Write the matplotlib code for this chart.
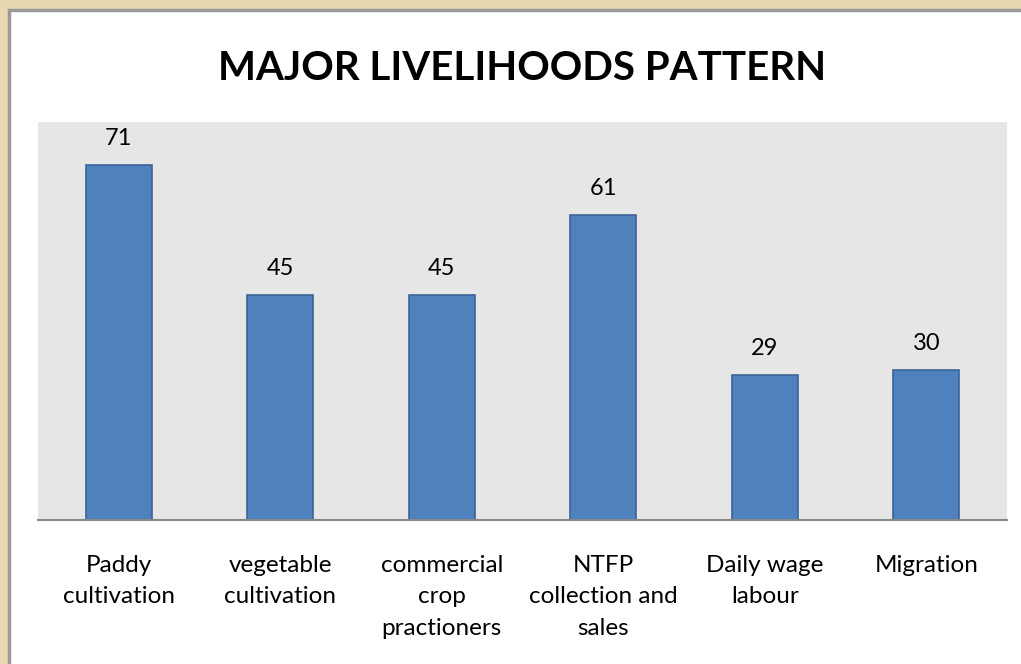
import matplotlib.pyplot as plt
import matplotlib.patches as mpatches
import numpy as np

categories = ["Paddy\ncultivation", "vegetable\ncultivation", "commercial\ncrop\npractioners",
              "NTFP\ncollection and\nsales", "Daily wage\nlabour", "Migration"]
values = [71, 45, 45, 61, 29, 30]

W, H = 1021, 664
fig = plt.figure(figsize=(W / 100, H / 100), dpi=100)
fig.patch.set_facecolor("#e9d7b1")

# white panel with grey border
panel = mpatches.Rectangle((8.5 / W, -0.01), 1, 1 - 9.5 / H + 0.01,
                           transform=fig.transFigure, facecolor="white",
                           edgecolor="#9a9a9a", linewidth=2.5, zorder=-1)
fig.add_artist(panel)

ax = fig.add_axes([38 / W, (H - 520) / H, (1007 - 38) / W, (520 - 122) / H])
ax.set_zorder(1)
ax.set_facecolor("#e6e6e6")

x = np.arange(len(values))
ax.bar(x, values, width=0.41, color="#4f81bd", edgecolor="#3b6497", linewidth=1.2)
for xi, v in zip(x, values):
    ax.text(xi, v + 3.2, str(v), ha="center", va="bottom", fontsize=17,
            family="Lato", color="black")

ax.set_xlim(-0.5, len(values) - 0.5)
ax.set_ylim(0, 79.6)
ax.set_yticks([])
ax.set_xticks(x)
ax.set_xticklabels(categories, fontsize=17.5, family="Lato", linespacing=1.62)
ax.tick_params(axis="x", length=0, pad=25)
for s in ["top", "left", "right"]:
    ax.spines[s].set_visible(False)
ax.spines["bottom"].set_color("#888888")
ax.spines["bottom"].set_linewidth(1.5)

fig.text(522 / W, 1 - 69 / H, "MAJOR LIVELIHOODS PATTERN", ha="center", va="center",
         fontsize=29, fontweight="bold", family="Lato")

fig.savefig("out.png", dpi=100, facecolor=fig.get_facecolor())
